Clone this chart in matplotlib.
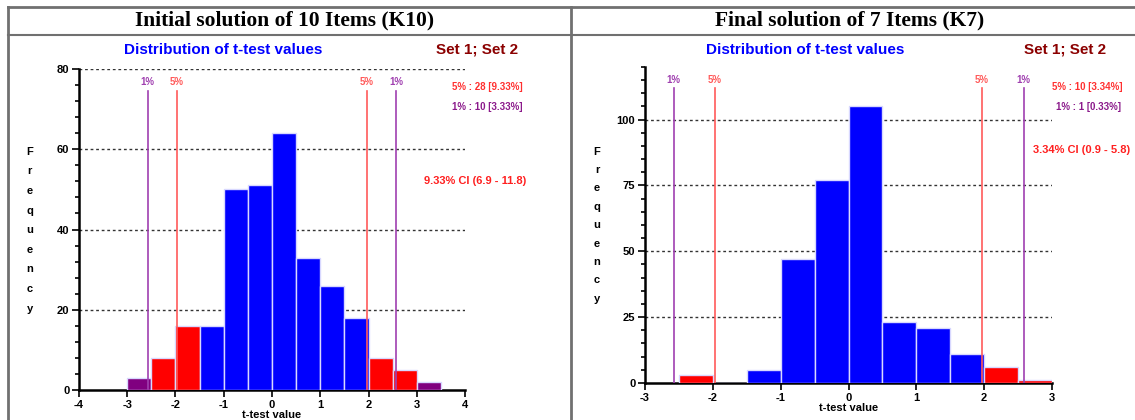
import numpy as np
import matplotlib
matplotlib.use("Agg")
import matplotlib.pyplot as plt
from matplotlib.lines import Line2D
from matplotlib.ticker import MultipleLocator, FixedLocator

SANS = ["Liberation Sans Narrow", "Liberation Sans", "DejaVu Sans"]
plt.rcParams["font.family"] = SANS
plt.rcParams["font.weight"] = "bold"
plt.rcParams["axes.unicode_minus"] = False

# histogram bins (left edges, width 0.5) and counts
K10_EDGES = [-3.0, -2.5, -2.0, -1.5, -1.0, -0.5, 0.0, 0.5, 1.0, 1.5, 2.0, 2.5, 3.0]
K10_COUNTS = [3, 8, 16, 16, 50, 51, 64, 33, 26, 18, 8, 5, 2]
K10_CLASS = ["p", "r", "r", "b", "b", "b", "b", "b", "b", "b", "r", "r", "p"]

K7_EDGES = [-2.5, -2.0, -1.5, -1.0, -0.5, 0.0, 0.5, 1.0, 1.5, 2.0, 2.5]
K7_COUNTS = [3, 0, 5, 47, 77, 105, 23, 21, 11, 6, 1]
K7_CLASS = ["r", "r", "b", "b", "b", "b", "b", "b", "b", "r", "r"]

CRIT_5 = 1.97
CRIT_1 = 2.58

COLS = {"b": "#0000FF", "r": "#FF0000", "p": "#800080"}
RED_LINE = "#FF5A5A"
PURPLE_LINE = "#A040B0"

fig = plt.figure(figsize=(11.35, 4.2), dpi=100)


def panel(rect, edges, counts, classes, xlim, ylim, yminor, grid,
          line_top, lab_y, stats, ci_text, ci_xy):
    ax = fig.add_axes(rect)
    for y in grid:
        ax.axhline(y, ls=(0, (2, 2)), lw=1, color="#333333", zorder=0)
    ax.bar(edges, counts, width=0.5, align="edge",
           color=[COLS[c] for c in classes], edgecolor="#D8D8FF", lw=1, zorder=2)
    for x, c, lab in [(-CRIT_1, PURPLE_LINE, "1%"), (-CRIT_5, RED_LINE, "5%"),
                      (CRIT_5, RED_LINE, "5%"), (CRIT_1, PURPLE_LINE, "1%")]:
        ax.plot([x, x], [0, line_top], color=c, lw=1.2, zorder=3)
        ax.text(x, lab_y, lab, color=c, fontsize=7, ha="center", va="bottom")
    ax.xaxis.set_major_locator(MultipleLocator(1))
    ax.yaxis.set_major_locator(FixedLocator([0] + grid))
    ax.yaxis.set_minor_locator(MultipleLocator(yminor))
    ax.set_xlim(*xlim)
    ax.set_ylim(*ylim)
    ax.spines["top"].set_visible(False)
    ax.spines["right"].set_visible(False)
    ax.spines["left"].set_linewidth(1.8)
    ax.spines["bottom"].set_linewidth(1.8)
    ax.spines["bottom"].set_zorder(1)
    ax.tick_params(which="both", direction="out", width=1.2, labelsize=8, pad=2)
    ax.tick_params(which="major", length=5)
    ax.tick_params(which="minor", length=3)
    for t in ax.get_xticklabels() + ax.get_yticklabels():
        t.set_fontweight("bold")
    ax.set_xlabel("t-test value", fontsize=8, fontweight="bold", labelpad=0)
    ax.text(stats[0][1], stats[0][2], stats[0][0], transform=ax.transAxes,
            color="#FF3030", fontsize=7, ha="left", va="center", clip_on=False)
    ax.text(stats[1][1], stats[1][2], stats[1][0], transform=ax.transAxes,
            color="#8B1A8B", fontsize=7, ha="left", va="center", clip_on=False)
    ax.text(ci_xy[0], ci_xy[1], ci_text, transform=ax.transAxes, color="#FF2020",
            fontsize=8, ha="left", va="center", clip_on=False)
    return ax


axL = panel([0.0696, 0.0714, 0.3401, 0.7643], K10_EDGES, K10_COUNTS, K10_CLASS,
            (-4, 4), (0, 80), 4, [20, 40, 60, 80], 74.5, 75.5,
            [("5% : 28 [9.33%]", 0.966, 0.944), ("1% : 10 [3.33%]", 0.966, 0.882)],
            "9.33% CI (6.9 - 11.8)", (0.894, 0.651))
axR = panel([0.5683, 0.0881, 0.3586, 0.7524], K7_EDGES, K7_COUNTS, K7_CLASS,
            (-3, 3), (0, 120), 5, [25, 50, 75, 100], 112, 113,
            [("5% : 10 [3.34%]", 1.0, 0.937), ("1% : 1 [0.33%]", 1.01, 0.873)],
            "3.34% CI (0.9 - 5.8)", (0.953, 0.737))

# stacked y label letters
for x, y, ls in [(0.026, 0.452, 2.2), (0.526, 0.464, 2.05)]:
    fig.text(x, y, "\n".join("Frequency"), fontsize=8, ha="center", va="center",
             linespacing=ls)

# chart headings
for xc, xs in [(0.197, 0.42), (0.709, 0.938)]:
    fig.text(xc, 0.881, "Distribution of t-test values", color="#0000FF",
             fontsize=11, ha="center", va="center")
    fig.text(xs, 0.881, "Set 1; Set 2", color="#8B0000", fontsize=11,
             ha="center", va="center")

# table frame and titles
gray = "#707070"
fig.add_artist(Line2D([0.007, 1.0], [0.983, 0.983], color=gray, lw=2))
fig.add_artist(Line2D([0.007, 1.0], [0.917, 0.917], color=gray, lw=1.5))
fig.add_artist(Line2D([0.007, 0.007], [0.0, 0.983], color=gray, lw=2))
fig.add_artist(Line2D([0.503, 0.503], [0.0, 0.983], color=gray, lw=2))
fig.text(0.251, 0.952, "Initial solution of 10 Items (K10)", family="Liberation Serif",
         fontsize=15.5, fontweight="bold", ha="center", va="center")
fig.text(0.749, 0.952, "Final solution of 7 Items (K7)", family="Liberation Serif",
         fontsize=15.5, fontweight="bold", ha="center", va="center")

fig.savefig("out.png", dpi=100)
